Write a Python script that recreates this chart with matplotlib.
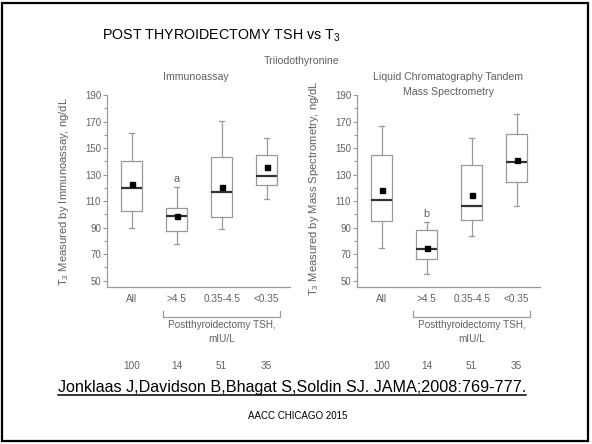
import numpy as np
import matplotlib
matplotlib.use('Agg')
from matplotlib import pyplot as plt
from matplotlib.patches import Rectangle
from matplotlib.lines import Line2D

plt.rcParams['font.family'] = ['Liberation Sans', 'DejaVu Sans']
plt.rcParams['mathtext.fontset'] = 'custom'
plt.rcParams['mathtext.rm'] = 'Liberation Sans'

# dati
groups = ['All', '>4.5', '0.35-4.5', '<0.35']
counts = [100, 14, 51, 35]

# immunoassay
imm_lo = [90.0, 78.0, 89.2, 111.6]
imm_q1 = [102.9, 87.2, 97.7, 122.0]
imm_med = [119.7, 99.0, 116.5, 129.3]
imm_q3 = [140.6, 105.1, 143.3, 144.4]
imm_hi = [161.5, 120.8, 170.5, 157.7]
imm_mean = [123.2, 99.0, 120.8, 135.8]

# mass spectrometry
ms_lo = [74.9, 55.0, 84.0, 106.5]
ms_q1 = [95.3, 66.3, 95.5, 124.7]
ms_med = [110.8, 73.6, 106.5, 139.5]
ms_q3 = [145.1, 88.0, 137.0, 160.7]
ms_hi = [166.9, 94.2, 157.9, 175.5]
ms_mean = [118.7, 75.0, 114.8, 141.1]

letters = ['a', 'b']
letter_y = [126.5, 100.0]

W, H = 592, 444
gray = '#9a9a9a'
tcol = '#606060'

fig = plt.figure(figsize=(W/100, H/100), dpi=100)
fig.patch.set_facecolor('white')

def px(x, y):
	return x/W, 1 - y/H

def panel(x0, lo, q1, med, q3, hi, mean, ylabel, letter, ly):
	ax = fig.add_axes([x0/W, 1 - 287.3/H, 183.3/W, 192.3/H])
	stats = []
	for i in range(len(groups)):
		stats.append(dict(whislo=lo[i], q1=q1[i], med=med[i], q3=q3[i], whishi=hi[i], mean=mean[i], fliers=[]))
	pos = np.arange(len(groups))
	ax.bxp(stats, positions=pos, widths=0.46, capwidths=0.12, showmeans=True,
		boxprops=dict(color=gray, lw=0.9),
		whiskerprops=dict(color=gray, lw=0.9),
		capprops=dict(color=gray, lw=0.9),
		medianprops=dict(color='#333333', lw=1.6),
		meanprops=dict(marker='s', markerfacecolor='black', markeredgecolor='black', markersize=3.6))
	ax.set_xlim(-0.556, 3.52)
	ax.set_ylim(45, 190)
	ax.set_yticks(np.arange(50, 191, 20))
	ax.set_yticks(np.arange(60, 190, 20), minor=True)
	ax.set_xticks(pos)
	ax.set_xticklabels(groups)
	for s in ['top', 'right']:
		ax.spines[s].set_visible(False)
	for s in ['left', 'bottom']:
		ax.spines[s].set_color(gray)
		ax.spines[s].set_linewidth(0.9)
	ax.spines['left'].set_bounds(45, 190)
	ax.tick_params(axis='y', which='major', length=2.8, width=0.8, color=gray, labelsize=6.9, labelcolor=tcol, pad=1.2)
	ax.tick_params(axis='y', which='minor', length=2.2, width=0.8, color=gray)
	ax.tick_params(axis='x', length=0, labelsize=7.2, labelcolor=tcol, pad=5)
	ax.set_ylabel(ylabel, fontsize=8.1, color=tcol)
	ax.yaxis.set_label_coords(-0.195, 0.5)
	ax.patch.set_alpha(0)
	ax.text(1, ly, letter, ha='center', va='center', fontsize=7.8, color=tcol)
	# parentesi sotto i gruppi TSH
	tr = ax.get_xaxis_transform()
	ax.plot([1 - 0.3, 1 - 0.3, 3 + 0.3, 3 + 0.3], [-0.123, -0.153, -0.153, -0.123], transform=tr,
		color=gray, lw=0.9, clip_on=False)
	ax.text(2, -0.196, 'Postthyroidectomy TSH,', transform=tr, ha='center', va='center', fontsize=7.2, color=tcol)
	ax.text(2, -0.269, 'mIU/L', transform=tr, ha='center', va='center', fontsize=7.2, color=tcol)
	for i, n in enumerate(counts):
		ax.text(pos[i], -0.409, str(n), transform=tr, ha='center', va='center', fontsize=7.2, color=tcol)
	return ax

ax1 = panel(106.7, imm_lo, imm_q1, imm_med, imm_q3, imm_hi, imm_mean,
	r'T$_\mathregular{3}$ Measured by Immunoassay, ng/dL', letters[0], letter_y[0])
ax2 = panel(356.7, ms_lo, ms_q1, ms_med, ms_q3, ms_hi, ms_mean,
	r'T$_\mathregular{3}$ Measured by Mass Spectrometry, ng/dL', letters[1], letter_y[1])
ax2.yaxis.set_label_coords(-0.195, 0.515)

# titoli
fig.text(*px(102, 36), r'POST THYROIDECTOMY TSH vs T$_\mathregular{3}$', fontsize=10.3, color='black', va='center', ha='left')
fig.text(*px(302, 61), 'Triiodothyronine', fontsize=7.6, color=tcol, ha='center', va='center')
fig.text(*px(196, 77), 'Immunoassay', fontsize=7.6, color=tcol, ha='center', va='center')
fig.text(*px(448, 77), 'Liquid Chromatography Tandem', fontsize=7.6, color=tcol, ha='center', va='center')
fig.text(*px(448, 91.5), 'Mass Spectrometry', fontsize=7.6, color=tcol, ha='center', va='center')

cit = fig.text(*px(58, 387), 'Jonklaas J,Davidson B,Bhagat S,Soldin SJ. JAMA;2008:769-777.',
	fontsize=11.6, color='black', ha='left', va='center')
fig.text(*px(298, 416), 'AACC CHICAGO 2015', fontsize=7, color='black', ha='center', va='center')

# sottolineatura della citazione
fig.canvas.draw()
bb = cit.get_window_extent()
yl = 1 - 395/H
fig.add_artist(Line2D([bb.x0/W, bb.x1/W], [yl, yl], color='black', lw=1.1))

# cornice
fig.add_artist(Rectangle((2/W, 3/H), 586/W, 438/H, fill=False, edgecolor='black', lw=1.6))

fig.savefig('out.png', dpi=100)
